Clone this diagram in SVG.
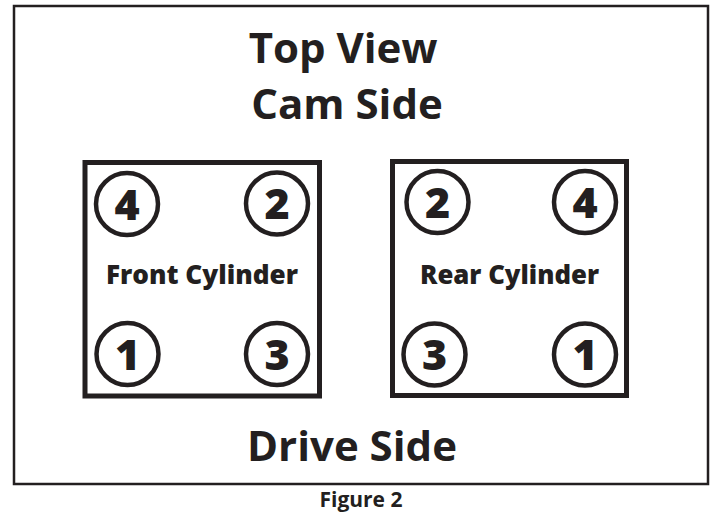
<svg xmlns="http://www.w3.org/2000/svg" width="724" height="512" viewBox="0 0 724 512">
<style>
.t{font-family:"Open Sans","DejaVu Sans",sans-serif;font-weight:700;fill:#231f20;text-anchor:middle}
.big{font-size:42px}
.lbl{font-size:26px;font-weight:800}
.num{font-size:43px;font-weight:800}
.cap{font-size:21px}
.box{fill:none;stroke:#231f20;stroke-width:5}
.cyl{fill:none;stroke:#231f20;stroke-width:4.5}
</style>
<rect x="0" y="0" width="724" height="512" fill="#ffffff"/>
<rect x="14" y="6" width="694" height="478" fill="none" stroke="#231f20" stroke-width="2.5"/>
<text class="t big" x="343" y="63">Top View</text>
<text class="t big" x="347" y="119">Cam Side</text>
<g id="front">
<rect class="box" x="85" y="162.5" width="234.5" height="233.5"/>
<text class="t lbl" x="202" y="284" textLength="192" lengthAdjust="spacingAndGlyphs">Front Cylinder</text>
<g id="front-4"><circle class="cyl" cx="127" cy="204" r="31"/><text class="t num" x="127" y="219.5">4</text></g>
<g id="front-2"><circle class="cyl" cx="277" cy="203.5" r="31"/><text class="t num" x="277" y="219">2</text></g>
<g id="front-1"><circle class="cyl" cx="127.5" cy="354" r="31"/><text class="t num" x="127.5" y="369.5">1</text></g>
<g id="front-3"><circle class="cyl" cx="277" cy="354" r="31"/><text class="t num" x="277" y="369.5">3</text></g>
</g>
<g id="rear">
<rect class="box" x="392.5" y="161.5" width="234" height="234"/>
<text class="t lbl" x="509.5" y="284" textLength="179" lengthAdjust="spacingAndGlyphs">Rear Cylinder</text>
<g id="rear-2"><circle class="cyl" cx="437.5" cy="202" r="31"/><text class="t num" x="437.5" y="217.5">2</text></g>
<g id="rear-4"><circle class="cyl" cx="585" cy="202" r="31"/><text class="t num" x="585" y="217.5">4</text></g>
<g id="rear-3"><circle class="cyl" cx="434.5" cy="354.5" r="31"/><text class="t num" x="434.5" y="370">3</text></g>
<g id="rear-1"><circle class="cyl" cx="585" cy="354.5" r="31"/><text class="t num" x="585" y="370">1</text></g>
</g>
<g id="connectors"></g>
<text class="t big" x="352" y="461">Drive Side</text>
<text class="t cap" x="361" y="507">Figure 2</text>
</svg>
